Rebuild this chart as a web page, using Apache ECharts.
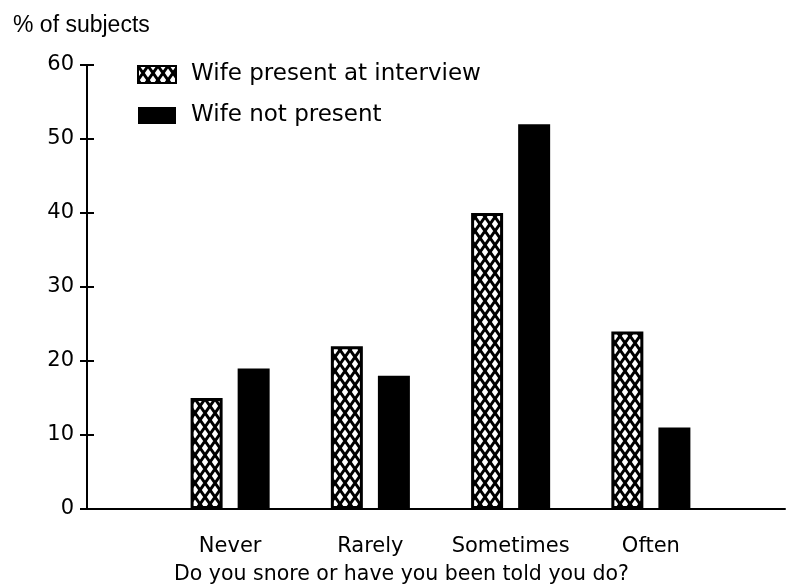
<!DOCTYPE html>
<html>
<head>
<meta charset="utf-8">
<script src="https://cdn.jsdelivr.net/npm/echarts@6/dist/echarts.min.js"></script>
<style>
  html, body { margin: 0; padding: 0; background: #fff; }
  #chartBox { width: 790px; height: 588px; }
</style>
</head>
<body>
<div id="chartBox"></div>
<script>
const categories = ["Never", "Rarely", "Sometimes", "Often"];
const wifePresent = [15, 22, 40, 24];
const wifeNotPresent = [19, 18, 52, 11];
const seriesNames = ["Wife present at interview", "Wife not present"];

// cross-hatch tile for the "present" bars
function hatchTile() {
  const w = 10, h = 14;
  const c = document.createElement("canvas");
  c.width = w;
  c.height = h;
  const ctx = c.getContext("2d");
  ctx.fillStyle = "#fff";
  ctx.fillRect(0, 0, w, h);
  ctx.strokeStyle = "#000";
  ctx.lineWidth = 3;
  for (let dx = -w; dx <= w; dx += w) {
    for (let dy = -h; dy <= h; dy += h) {
      ctx.beginPath();
      ctx.moveTo(dx, dy);
      ctx.lineTo(dx + w, dy + h);
      ctx.moveTo(dx + w, dy);
      ctx.lineTo(dx, dy + h);
      ctx.stroke();
    }
  }
  return c;
}

const font = "DejaVu Sans";
const chart = echarts.init(document.getElementById("chartBox"));

const hiddenXAxis = (gridIndex, showLine) => ({
  gridIndex: gridIndex,
  type: "value",
  min: 0,
  max: 1,
  axisLine: { show: showLine, onZero: false, lineStyle: { color: "#000", width: 2 } },
  axisTick: { show: false },
  axisLabel: { show: false },
  splitLine: { show: false }
});

let option = {
  backgroundColor: "#fff",
  animation: false,
  title: [
    {
      text: "% of subjects",
      left: 8,
      top: 9,
      textStyle: { fontFamily: "Liberation Sans", fontSize: 23, fontWeight: "normal", color: "#000" }
    },
    {
      text: "Do you snore or have you been told you do?",
      left: 174,
      top: 564,
      padding: 0,
      textStyle: { fontFamily: font, fontSize: 20.5, fontWeight: "normal", color: "#000" }
    }
  ],
  legend: {
    orient: "vertical",
    left: 137,
    top: 63,
    padding: 0,
    itemWidth: 38,
    itemHeight: 17,
    itemGap: 18,
    icon: "rect",
    textStyle: { fontFamily: font, fontSize: 23, color: "#000", padding: [0, 0, 0, 10] },
    data: seriesNames
  },
  grid: [
    { left: 87, right: 5, top: 65, bottom: 79, outerBoundsMode: "none" },
    { left: 160, width: 561, top: 65, bottom: 79, outerBoundsMode: "none" },
    // narrow strip whose split lines form the ticks crossing the y axis
    { left: 80, width: 14, top: 65, bottom: 79, outerBoundsMode: "none" }
  ],
  xAxis: [
    hiddenXAxis(0, true),
    {
      gridIndex: 1,
      type: "category",
      data: categories,
      axisLine: { show: false },
      axisTick: { show: false },
      axisLabel: { interval: 0, fontFamily: font, fontSize: 21, color: "#000", margin: 27 }
    },
    hiddenXAxis(2, false)
  ],
  yAxis: [
    {
      gridIndex: 0,
      type: "value",
      min: 0,
      max: 60,
      interval: 10,
      axisLine: { show: true, lineStyle: { color: "#000", width: 2 } },
      axisTick: { show: false },
      axisLabel: { fontFamily: font, fontSize: 21, color: "#000", margin: 13 },
      splitLine: { show: false }
    },
    {
      gridIndex: 1,
      type: "value",
      min: 0,
      max: 60,
      show: false
    },
    {
      gridIndex: 2,
      type: "value",
      min: 0,
      max: 60,
      interval: 10,
      axisLine: { show: false },
      axisTick: { show: false },
      axisLabel: { show: false },
      splitLine: { show: true, lineStyle: { color: "#000", width: 2 } }
    }
  ],
  series: [
    {
      name: seriesNames[0],
      type: "bar",
      xAxisIndex: 1,
      yAxisIndex: 1,
      barWidth: 32,
      barGap: "47%",
      data: wifePresent,
      itemStyle: {
        color: { image: hatchTile(), repeat: "repeat" },
        borderColor: "#000",
        borderWidth: 3
      }
    },
    {
      name: seriesNames[1],
      type: "bar",
      xAxisIndex: 1,
      yAxisIndex: 1,
      barWidth: 32,
      barGap: "47%",
      data: wifeNotPresent,
      itemStyle: { color: "#000" }
    }
  ]
};
chart.setOption(option);
</script>
</body>
</html>
